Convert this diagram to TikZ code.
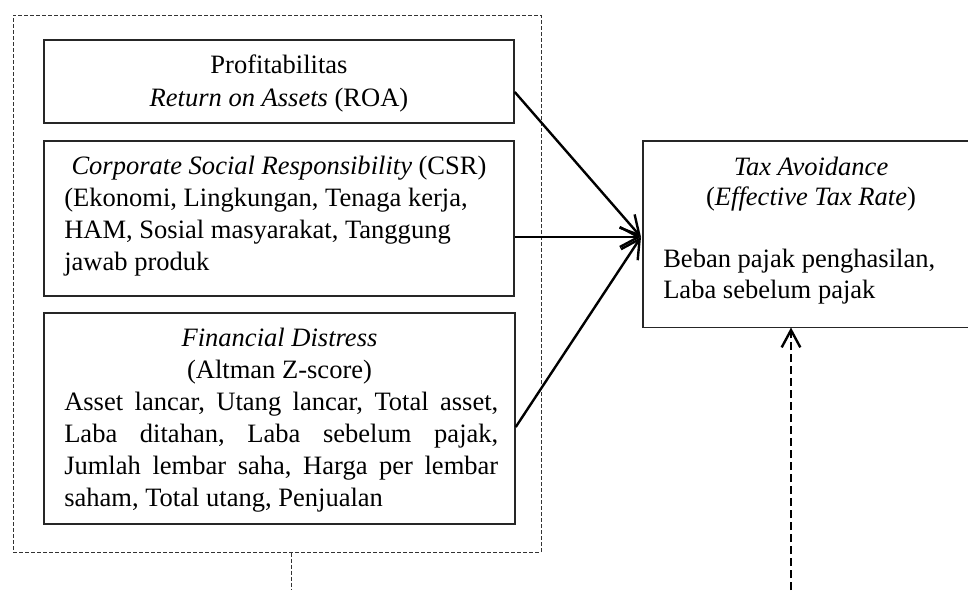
\documentclass[tikz,border=0pt]{standalone}
\usepackage{fontspec}
\setmainfont{Liberation Serif}
\usetikzlibrary{arrows.meta,calc}
\begin{document}
\frenchspacing
\begin{tikzpicture}[x=0.75pt,y=-0.75pt,
  every node/.style={font=\fontsize{19.9pt}{24pt}\selectfont},
  boxline/.style={draw=black!85,line width=1.1pt},
  box/.style={boxline,inner sep=0pt},
  outerbox/.style={draw=black!80,line width=0.75pt,dash pattern=on 3pt off 1.5pt,inner sep=0pt},
  ln/.style={inner sep=0pt,anchor=base},
  lnw/.style={inner sep=0pt,anchor=base west},
  arr/.style={line width=1.8pt,-{Straight Barb[length=14pt,width=15pt]}},
  darr/.style={line width=1.8pt,dash pattern=on 6pt off 3pt,-{Straight Barb[length=13pt,width=14pt]}},
  dotline/.style={draw=black!80,line width=0.75pt,dash pattern=on 3pt off 1.5pt}]
\useasboundingbox (0,0) rectangle (968,590);
% outer dashed frame
\node[outerbox,minimum width=396pt,minimum height=402.75pt] (outer) at (277,283.5) {};
% boxes
\node[box,minimum width=352.5pt,minimum height=62.25pt] (b1) at (279,81.5) {};
\node[box,minimum width=352.5pt,minimum height=116.25pt] (b2) at (279,218.5) {};
\node[box,minimum width=353.25pt,minimum height=158.25pt] (b3) at (279.5,418.5) {};
% tax box (right side cut by the picture edge)
\node[inner sep=0pt,minimum width=243.75pt,minimum height=139.5pt,anchor=north west] (tax) at (643,141) {};
\draw[boxline] (tax.north east) -- (tax.north west) -- (tax.south west) -- (tax.south east);
% texts box 1
\node[ln] (t1) at (279,73) {Profitabilitas};
\node[ln] (t2) at (279,106) {\textit{Return on Assets} (ROA)};
% texts box 2
\node[ln] (t3) at (279,174) {\textit{Corporate Social Responsibility} (CSR)};
\node[lnw] (t4) at (64,206) {(Ekonomi, Lingkungan, Tenaga kerja,};
\node[lnw] (t5) at (64,238) {HAM, Sosial masyarakat, Tanggung};
\node[lnw] (t6) at (64,270) {jawab produk};
% texts box 3
\node[ln] (t7) at (279.5,346) {\textit{Financial Distress}};
\node[ln] (t8) at (279.5,378) {(Altman Z-score)};
\node[lnw] (t9) at (64,410) {\makebox[325.5pt][s]{Asset lancar, Utang lancar, Total asset,}};
\node[lnw] (t10) at (64,442) {\makebox[325.5pt][s]{Laba ditahan, Laba sebelum pajak,}};
\node[lnw] (t11) at (64,474) {\makebox[325.5pt][s]{Jumlah lembar saha, Harga per lembar}};
\node[lnw] (t12) at (64,506) {saham, Total utang, Penjualan};
% texts tax box
\node[ln] (t13) at (811,175) {\textit{Tax Avoidance}};
\node[ln] (t14) at (811,205) {(\textit{Effective Tax Rate})};
\node[lnw] (t15) at (663,267) {Beban pajak penghasilan,};
\node[lnw] (t16) at (663,298) {Laba sebelum pajak};
% connectors
\coordinate (tip) at (641,237);
\coordinate (bot1) at (291,590);
\coordinate (bot2) at (791,590);
\draw[arr] (b1.east |- 0,92) -- (tip);
\draw[arr] (b2.east |- tip) -- (tip);
\draw[arr] (b3.east |- 0,427) -- (tip);
\draw[darr] (bot2) -- (tax.south -| bot2);
\draw[dotline] (outer.south -| bot1) -- (bot1);
\end{tikzpicture}
\end{document}
